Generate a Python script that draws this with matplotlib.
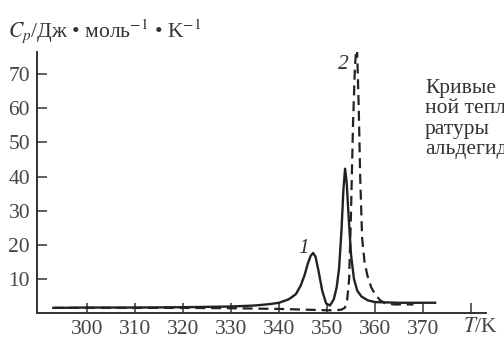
import matplotlib
matplotlib.use("Agg")
import matplotlib.pyplot as plt

# heat capacity curves
T1 = [293, 300, 310, 320, 330, 335, 338, 340, 342, 343.5, 344.5, 345.3, 346, 346.6,
      347.1, 347.6, 348.2, 349, 349.8, 350.6, 351.4, 352, 352.5, 353, 353.4, 353.75,
      354.1, 354.5, 355, 355.6, 356.3, 357.2, 358.5, 360, 365, 372.5]
Cp1 = [1.5, 1.6, 1.6, 1.7, 1.9, 2.2, 2.6, 3.0, 4.0, 5.5, 8, 11, 14.5, 16.8,
       17.6, 16.5, 12.5, 6.5, 2.8, 2.2, 4, 7.5, 13, 24, 36, 42.3,
       38, 28, 17, 10, 6.5, 4.8, 3.7, 3.2, 3.0, 3.0]

T2 = [293, 300, 310, 320, 330, 340, 345, 350, 352, 353, 353.7, 354.2, 354.6, 355.0,
      355.4, 355.8, 356.2, 356.6, 356.9, 357.3, 357.8, 358.4, 359.2, 360, 361, 362,
      364, 368]
Cp2 = [1.5, 1.5, 1.5, 1.5, 1.4, 1.2, 1.0, 0.8, 0.8, 1.0, 1.5, 4, 10, 30,
       55, 72, 80, 60, 40, 22, 15, 11, 7.5, 5.5, 3.8, 2.9,
       2.5, 2.5]

xticks = [300, 310, 320, 330, 340, 350, 360, 370, 380]
xlabels = ["300", "310", "320", "330", "340", "350", "360", "370", ""]
yticks = [10, 20, 30, 40, 50, 60, 70]

plt.rcParams['font.family'] = ['Liberation Serif', 'DejaVu Serif']
plt.rcParams['mathtext.fontset'] = 'stix'
FS = 15.5

fig = plt.figure(figsize=(5.04, 3.42), dpi=100)
ax = fig.add_axes([37/504, 29/342, 449/504, 261/342])

ax.plot(T1, Cp1, color='#222222', lw=1.7)
ax.plot(T2, Cp2, color='#222222', lw=1.6, dashes=(4.5, 2.6))

ax.set_xlim(289.6, 383.1)
ax.set_ylim(0, 76.5)
for s in ['top', 'right']:
    ax.spines[s].set_visible(False)
for s in ['left', 'bottom']:
    ax.spines[s].set_linewidth(1.4)
    ax.spines[s].set_color('#333333')

ax.set_xticks(xticks)
ax.set_xticklabels(xlabels)
ax.set_yticks(yticks)
ax.tick_params(direction='in', length=7, width=1.1, color='#333333',
               labelsize=FS, labelcolor='#444444', pad=5)

ax.text(344.0, 17.5, "1", fontsize=FS, style='italic', color='#333333')
ax.text(352.2, 71.5, "2", fontsize=FS, style='italic', color='#333333')

fig.text(8/504, 1 - 37/342, "$C_p$/Дж • моль$^{-1}$ • K$^{-1}$",
         fontsize=FS, color='#333333', va='baseline')
fig.text(481/504, 1 - 328/342, "$T$/K", fontsize=FS, color='#444444',
         ha='center', va='center')

caption = ["Кривые", "ной тепл", "ратуры", "альдегид"]
for i, line in enumerate(caption):
    fig.text(425/504, 1 - (88 + 20.5 * i)/342, line, fontsize=FS,
             color='#333333', va='center')

fig.savefig("out.png", dpi=100)
